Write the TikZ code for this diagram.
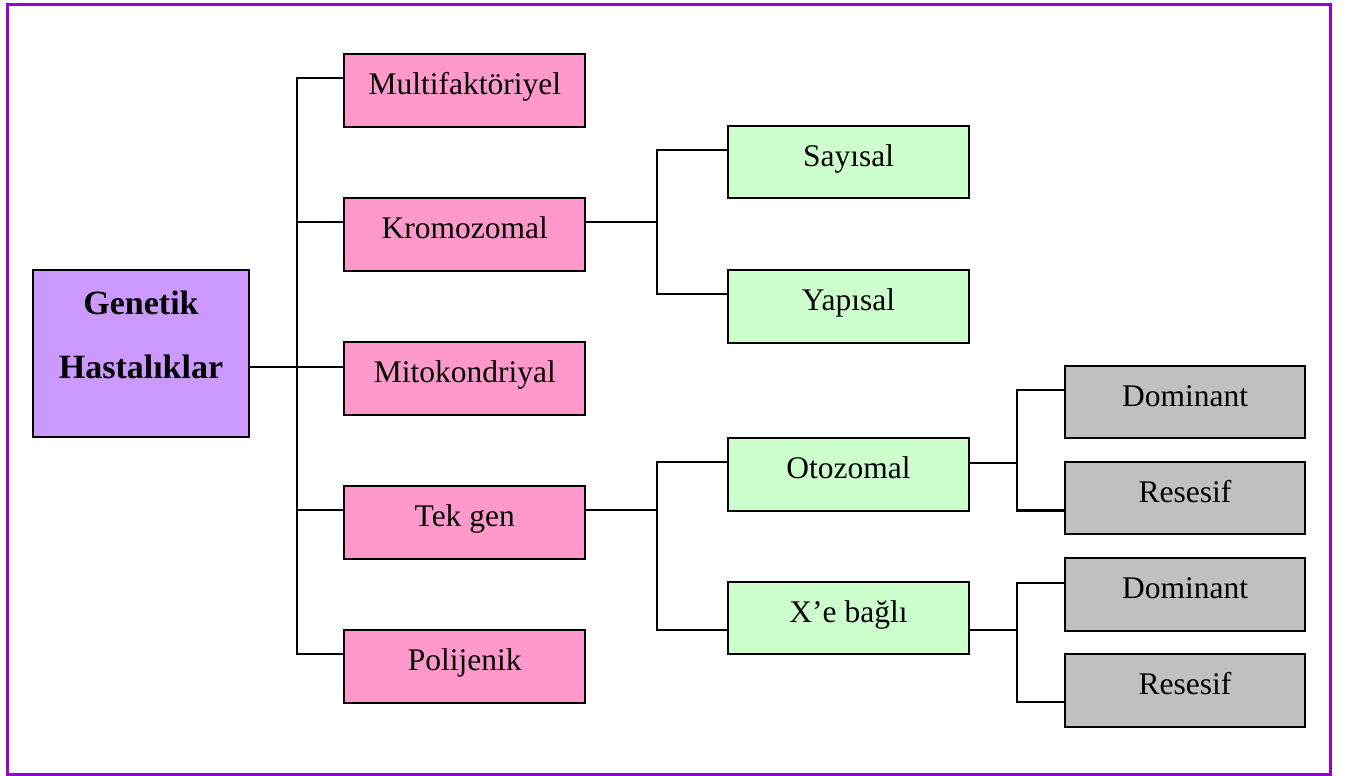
\documentclass[tikz,border=0pt]{standalone}
\usepackage{fontspec}
\setmainfont{Liberation Serif}
\definecolor{pinkbox}{HTML}{FF99CC}
\definecolor{greenbox}{HTML}{CCFFCC}
\definecolor{purplebox}{HTML}{CC99FF}
\definecolor{graybox}{HTML}{C0C0C0}
\definecolor{frame}{HTML}{9900CC}
\begin{document}
\begin{tikzpicture}[x=1pt,y=-1pt,
  box/.style={draw=black, line width=2pt, minimum width=241pt, minimum height=72.5pt,
    inner sep=0pt, text height=20pt, text depth=12pt,
    font=\fontsize{31.5}{38}\selectfont},
  pinkb/.style={box, fill=pinkbox},
  greenb/.style={box, fill=greenbox},
  grayb/.style={box, fill=graybox, minimum width=240pt},
  link/.style={draw=black, line width=2.4pt}]
\useasboundingbox (0,0) rectangle (1354,776);
\draw[frame, line width=3pt] (7,5) rectangle (1330.5,774.5);

% root
\node[draw=black, line width=2pt, fill=purplebox, minimum width=216pt, minimum height=167pt,
  inner sep=0pt, align=center, text height=90pt, text depth=41pt,
  font=\fontsize{34}{64}\selectfont\bfseries] (gen) at (141,353.5) {Genetik\\Hastalıklar};

% level 1
\node[pinkb] (mul) at (464.75,90.5) {Multifaktöriyel};
\node[pinkb] (kro) at (464.75,234.5) {Kromozomal};
\node[pinkb] (mit) at (464.75,378.5) {Mitokondriyal};
\node[pinkb] (tek) at (464.75,522.5) {Tek gen};
\node[pinkb] (pol) at (464.75,666.5) {Polijenik};

% level 2
\node[greenb] (say) at (848.5,162) {Sayısal};
\node[greenb] (yap) at (848.5,306.5) {Yapısal};
\node[greenb] (oto) at (848.5,474.5) {Otozomal};
\node[greenb] (xeb) at (848.5,618) {X’e bağlı};

% level 3
\node[grayb] (dom1) at (1185,402) {Dominant};
\node[grayb] (res1) at (1185,498) {Resesif};
\node[grayb] (dom2) at (1185,594.5) {Dominant};
\node[grayb] (res2) at (1185,690.5) {Resesif};

% junction columns
\coordinate (c1) at (297,0);
\coordinate (c2) at (657,0);
\coordinate (c3) at (1017,0);

% connection points
\coordinate (gen-out) at (gen.east |- 0,367);
\coordinate (mul-in) at (mul.west |- 0,78);
\coordinate (kro-in) at (kro.west |- 0,222);
\coordinate (mit-in) at (mit.west |- 0,367);
\coordinate (tek-in) at (tek.west |- 0,510);
\coordinate (pol-in) at (pol.west |- 0,654);
\coordinate (kro-out) at (kro.east |- 0,222);
\coordinate (tek-out) at (tek.east |- 0,510);
\coordinate (say-in) at (say.west |- 0,150);
\coordinate (yap-in) at (yap.west |- 0,294);
\coordinate (oto-in) at (oto.west |- 0,462);
\coordinate (xeb-in) at (xeb.west |- 0,630);
\coordinate (oto-out) at (oto.east |- 0,463);
\coordinate (xeb-out) at (xeb.east |- 0,630);
\coordinate (dom1-in) at (dom1.west |- 0,390);
\coordinate (res1-in) at (res1.west |- 0,510.5);
\coordinate (dom2-in) at (dom2.west |- 0,583);
\coordinate (res2-in) at (res2.west |- 0,702);

% level 0 -> 1
\draw[link] (gen-out) -- (mit-in);
\draw[link] (mul-in) -| (c1 |- pol-in) -- (pol-in);
\draw[link] (c1 |- kro-in) -- (kro-in);
\draw[link] (c1 |- tek-in) -- (tek-in);

% level 1 -> 2
\draw[link] (kro-out) -- (c2 |- kro-out);
\draw[link] (say-in) -| (c2 |- yap-in) -- (yap-in);
\draw[link] (tek-out) -- (c2 |- tek-out);
\draw[link] (oto-in) -| (c2 |- xeb-in) -- (xeb-in);

% level 2 -> 3
\draw[link] (oto-out) -- (c3 |- oto-out);
\draw[link] (dom1-in) -| (c3 |- res1-in) -- (res1-in);
\draw[link] (xeb-out) -- (c3 |- xeb-out);
\draw[link] (dom2-in) -| (c3 |- res2-in) -- (res2-in);
\end{tikzpicture}
\end{document}
